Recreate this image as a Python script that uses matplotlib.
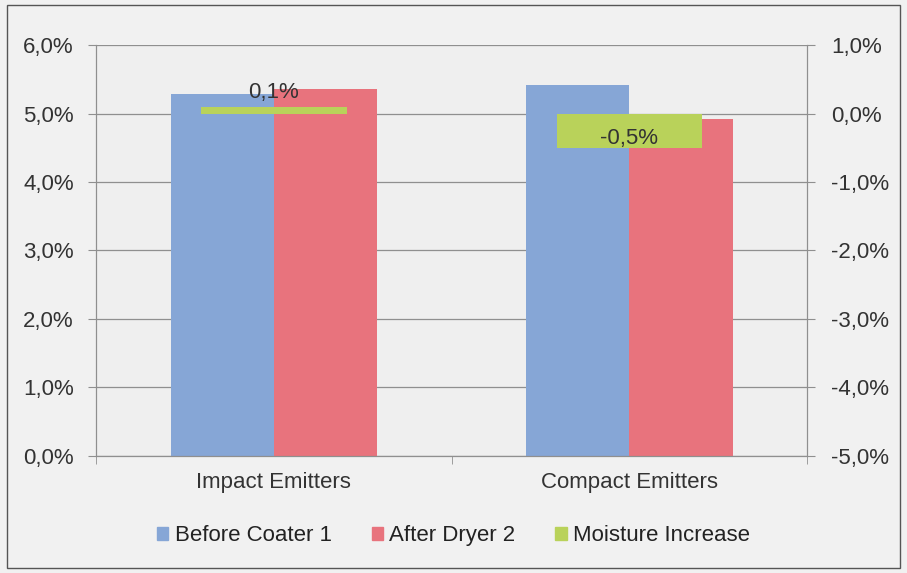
import numpy as np
import matplotlib
matplotlib.use('Agg')
from matplotlib import pyplot as plt
from matplotlib.ticker import FuncFormatter
from matplotlib.patches import Patch

matplotlib.rcParams['font.family'] = ['Liberation Sans', 'DejaVu Sans']

categories = ['Impact Emitters', 'Compact Emitters']
beforeCoater = [5.28, 5.42]
afterDryer = [5.36, 4.92]
moistureIncrease = [0.1, -0.5]
moistureLabels = ['0,1%', '-0,5%']
seriesNames = ['Before Coater 1', 'After Dryer 2', 'Moisture Increase']

blueColor = '#86a6d6'
redColor = '#e8737d'
greenColor = '#b9d25a'
gridColor = '#8f8f8f'
textColor = '#333333'
fontSize = 16

def comma_pct(val, pos):
    return '{:.1f}%'.format(val).replace('.', ',')

fig = plt.figure(figsize=(9.07, 5.73), dpi=100, facecolor='#f1f1f1')
ax0 = fig.add_axes([0.106, 0.205, 0.784, 0.716])
ax0.set_facecolor('#efefef')
ax1 = ax0.twinx()

xpos = np.arange(len(categories))
barWidth = 0.29
ax0.bar(xpos - barWidth/2, beforeCoater, width=barWidth, color=blueColor, zorder=2)
ax0.bar(xpos + barWidth/2, afterDryer, width=barWidth, color=redColor, zorder=2)
ax1.bar(xpos, moistureIncrease, width=0.41, color=greenColor, zorder=3)

ax0.set_ylim(0, 6)
ax1.set_ylim(-5, 1)
ax0.set_xlim(-0.5, 1.5)
ax0.set_yticks(np.arange(0, 7, 1))
ax1.set_yticks(np.arange(-5, 2, 1))
ax0.yaxis.set_major_formatter(FuncFormatter(comma_pct))
ax1.yaxis.set_major_formatter(FuncFormatter(comma_pct))
ax0.grid(axis='y', color=gridColor, lw=0.9, zorder=0)
ax0.set_axisbelow(True)

ax0.set_xticks(xpos)
ax0.set_xticklabels(categories, fontsize=fontSize, color=textColor)
ax0.set_xticks([-0.5, 0.5, 1.5], minor=True)
ax0.tick_params(axis='x', which='major', length=0, pad=12)
ax0.tick_params(axis='x', which='minor', length=6, color=gridColor)
ax0.tick_params(axis='y', length=6, color=gridColor, labelsize=fontSize,
                labelcolor=textColor, pad=10)
ax1.tick_params(axis='y', length=6, color=gridColor, labelsize=fontSize,
                labelcolor=textColor, pad=11)

for ax in [ax0, ax1]:
    ax.spines['top'].set_visible(False)
    ax.spines['left'].set_color(gridColor)
    ax.spines['right'].set_color(gridColor)
    ax.spines['bottom'].set_color(gridColor)

# data labels for moisture increase
ax1.text(xpos[0], moistureIncrease[0] + 0.05, moistureLabels[0], ha='center',
         va='bottom', fontsize=fontSize, color=textColor, zorder=4)
ax1.text(xpos[1], moistureIncrease[1] / 2 - 0.12, moistureLabels[1], ha='center',
         va='center', fontsize=fontSize, color=textColor, zorder=4)

handles = [Patch(color=blueColor), Patch(color=redColor), Patch(color=greenColor)]
fig.legend(handles, seriesNames, loc='center', bbox_to_anchor=(0.5, 0.065), ncol=3,
           frameon=False, fontsize=fontSize, handlelength=0.5, handleheight=0.5,
           handletextpad=0.3, columnspacing=1.8, labelcolor='#222222')

fig.patches.append(plt.Rectangle((0.008, 0.008), 0.984, 0.984, transform=fig.transFigure,
                                 fill=False, ec='#555555', lw=1.0))

fig.savefig('out.png', dpi=100, facecolor=fig.get_facecolor())
